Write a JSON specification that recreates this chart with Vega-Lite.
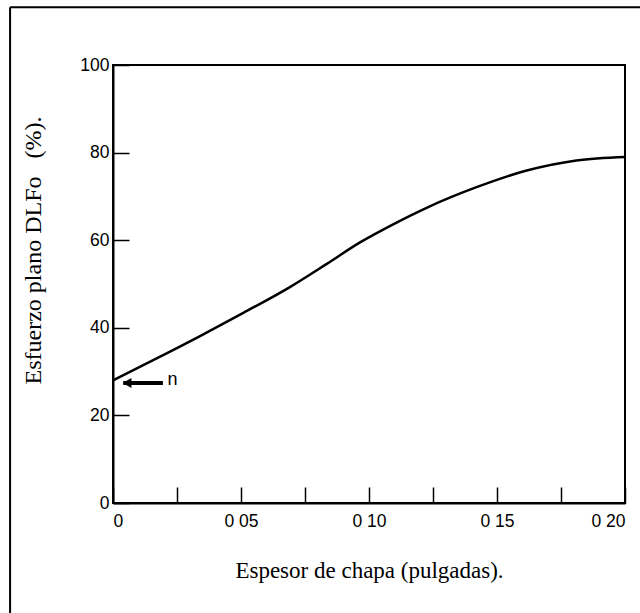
{
  "$schema": "https://vega.github.io/schema/vega-lite/v6.json",
  "width": 512,
  "height": 438,
  "autosize": {"type": "none"},
  "padding": {"left": 113, "top": 65, "right": 15, "bottom": 110},
  "background": "white",
  "config": {
    "view": {"stroke": "black", "strokeWidth": 2},
    "axis": {
      "domainColor": "black", "domainWidth": 2,
      "tickColor": "black", "tickWidth": 1.5, "tickSize": -16,
      "labelFont": "Liberation Sans", "labelFontSize": 17.5, "labelColor": "black",
      "titleFont": "Liberation Serif", "titleFontSize": 23, "titleFontWeight": "normal", "titleColor": "black",
      "grid": false, "labelOverlap": false
    }
  },
  "datasets": {
    "curve": [
      {"t": 0.0, "s": 28.0},
      {"t": 0.0157, "s": 32.6},
      {"t": 0.034, "s": 38.1},
      {"t": 0.0509, "s": 43.4},
      {"t": 0.0691, "s": 49.3},
      {"t": 0.0835, "s": 54.6},
      {"t": 0.0965, "s": 59.5},
      {"t": 0.11, "s": 63.8},
      {"t": 0.1225, "s": 67.4},
      {"t": 0.142, "s": 72.1},
      {"t": 0.1616, "s": 75.9},
      {"t": 0.181, "s": 78.2},
      {"t": 0.2, "s": 79.0}
    ]
  },
  "layer": [
    {
      "data": {"name": "curve"},
      "mark": {"type": "line", "color": "black", "strokeWidth": 2.5, "interpolate": "monotone"},
      "encoding": {
        "x": {
          "field": "t", "type": "quantitative",
          "scale": {"domain": [0, 0.2], "nice": false},
          "axis": {
            "values": [0, 0.025, 0.05, 0.075, 0.1, 0.125, 0.15, 0.175, 0.2],
            "labelExpr": "round(datum.value*1000) % 50 == 0 ? (datum.value == 0 ? '0' : replace(format(datum.value, '.2f'), '.', ' ')) : ''",
            "labelPadding": 25,
            "title": "Espesor de chapa (pulgadas).",
            "titlePadding": 30
          }
        },
        "y": {
          "field": "s", "type": "quantitative",
          "scale": {"domain": [0, 100], "nice": false},
          "axis": {
            "values": [0, 20, 40, 60, 80, 100],
            "labelPadding": 20,
            "title": "Esfuerzo plano DLFo\u00a0\u00a0\u00a0(%).",
            "titleFontSize": 24,
            "titleX": -68,
            "titleY": 185,
            "titleAlign": "center",
            "titleAngle": -90
          }
        }
      }
    },
    {
      "data": {"values": [{}]},
      "mark": {"type": "rule", "color": "black", "strokeWidth": 4},
      "encoding": {
        "x": {"datum": 0.004},
        "x2": {"datum": 0.0195},
        "y": {"datum": 27.4}
      }
    },
    {
      "data": {"values": [{}]},
      "mark": {"type": "point", "shape": "triangle-left", "filled": true, "color": "black", "size": 100, "opacity": 1},
      "encoding": {
        "x": {"datum": 0.0055},
        "y": {"datum": 27.4}
      }
    },
    {
      "data": {"values": [{}]},
      "mark": {"type": "text", "text": "n", "align": "left", "baseline": "middle", "font": "Liberation Sans", "fontSize": 18, "color": "black", "dx": 2},
      "encoding": {
        "x": {"datum": 0.0205},
        "y": {"datum": 28.0}
      }
    },
    {
      "data": {"values": [{}]},
      "mark": {"type": "rule", "color": "black", "strokeWidth": 2, "clip": false},
      "encoding": {
        "x": {"datum": -0.0402},
        "y": {"datum": 113.2},
        "y2": {"datum": -40}
      }
    },
    {
      "data": {"values": [{}]},
      "mark": {"type": "rule", "color": "black", "strokeWidth": 2, "clip": false},
      "encoding": {
        "x": {"datum": -0.0402},
        "x2": {"datum": 0.23},
        "y": {"datum": 113.2}
      }
    }
  ]
}
